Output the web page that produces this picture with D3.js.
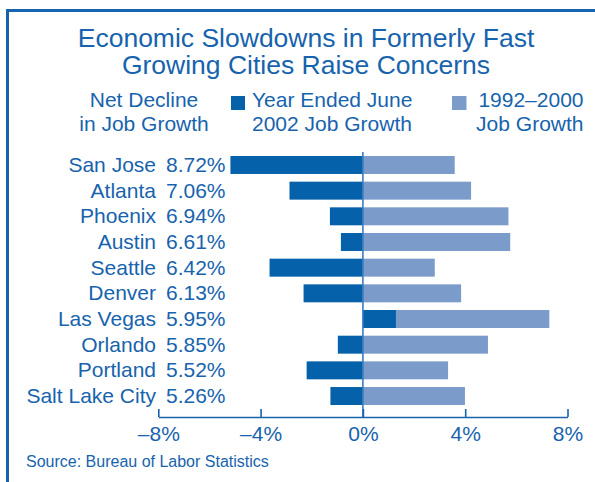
<!DOCTYPE html>
<html>
<head>
<meta charset="utf-8">
<script src="https://cdn.jsdelivr.net/npm/d3@7"></script>
<style>
  body { margin: 0; background: #fff; }
  svg text { font-family: "Liberation Sans", Arial, Helvetica, sans-serif; fill: #1763ad; }
</style>
</head>
<body>
<svg id="chart" width="595" height="482"></svg>
<script>
// values
const cities = ['San Jose', 'Atlanta', 'Phoenix', 'Austin', 'Seattle',
  'Denver', 'Las Vegas', 'Orlando', 'Portland', 'Salt Lake City'];
const netDecline = [8.72, 7.06, 6.94, 6.61, 6.42, 6.13, 5.95, 5.85, 5.52, 5.26];
const growth2002 = [-5.18, -2.87, -1.29, -0.86, -3.65, -2.32, 1.29, -0.98, -2.20, -1.27];
const growth9200 = [3.59, 4.23, 5.69, 5.76, 2.81, 3.84, 7.29, 4.89, 3.33, 3.99];
const xTicks = [-8, -4, 0, 4, 8];
const titleLines = ['Economic Slowdowns in Formerly Fast', 'Growing Cities Raise Concerns'];

const DARK = '#0561a9';
const LIGHT = '#7b9bcb';
const BLUE = '#1763ad';

const svg = d3.select('#chart');

// frame (only left and top edges show)
svg.append('path')
  .attr('d', 'M7.5,482V10.5H595')
  .attr('fill', 'none')
  .attr('stroke', BLUE)
  .attr('stroke-width', 3);

// title
svg.append('g').selectAll('text')
  .data(titleLines)
  .join('text')
  .attr('x', 306)
  .attr('y', (d, i) => 46.5 + i * 27.5)
  .attr('text-anchor', 'middle')
  .attr('font-size', 26.5)
  .text((d) => d);

// legend
const legend = svg.append('g').attr('font-size', 21);
legend.append('text').attr('x', 144).attr('y', 107).attr('text-anchor', 'middle').text('Net Decline');
legend.append('text').attr('x', 144).attr('y', 130.5).attr('text-anchor', 'middle').text('in Job Growth');
legend.append('rect').attr('x', 231).attr('y', 96).attr('width', 14).attr('height', 14).attr('fill', DARK);
legend.append('text').attr('x', 252).attr('y', 107).text('Year Ended June');
legend.append('text').attr('x', 252).attr('y', 130.5).text('2002 Job Growth');
legend.append('rect').attr('x', 452).attr('y', 96).attr('width', 14.5).attr('height', 14).attr('fill', LIGHT);
legend.append('text').attr('x', 583.5).attr('y', 107).attr('text-anchor', 'end').text('1992\u20132000');
legend.append('text').attr('x', 583.5).attr('y', 130.5).attr('text-anchor', 'end').text('Job Growth');

// scales
const x = d3.scaleLinear().domain([-8, 8]).range([158.3, 567.5]);
const y = d3.scaleBand().domain(cities).range([148.3, 412.7]).padding(0.3);

const rows = cities.map((c, i) => ({
  city: c, net: netDecline[i], g02: growth2002[i], g92: growth9200[i],
}));

// bars: long-run growth first, recent growth on top
svg.append('g').selectAll('rect')
  .data(rows)
  .join('rect')
  .attr('x', (d) => x(Math.min(0, d.g92)))
  .attr('y', (d) => y(d.city))
  .attr('width', (d) => Math.abs(x(d.g92) - x(0)))
  .attr('height', y.bandwidth())
  .attr('fill', LIGHT);

svg.append('g').selectAll('rect')
  .data(rows)
  .join('rect')
  .attr('x', (d) => x(Math.min(0, d.g02)))
  .attr('y', (d) => y(d.city))
  .attr('width', (d) => Math.abs(x(d.g02) - x(0)))
  .attr('height', y.bandwidth())
  .attr('fill', DARK);

// zero line
svg.append('line')
  .attr('x1', x(0)).attr('x2', x(0))
  .attr('y1', 152).attr('y2', 417)
  .attr('stroke', '#3a7cc1')
  .attr('stroke-width', 1.6);

// row labels
const labels = svg.append('g').attr('font-size', 21);
labels.selectAll('text.city')
  .data(rows)
  .join('text')
  .attr('class', 'city')
  .attr('x', 156)
  .attr('y', (d) => y(d.city) + y.bandwidth() / 2 + 7)
  .attr('text-anchor', 'end')
  .text((d) => d.city);
labels.selectAll('text.net')
  .data(rows)
  .join('text')
  .attr('class', 'net')
  .attr('x', 166)
  .attr('y', (d) => y(d.city) + y.bandwidth() / 2 + 7)
  .text((d) => d.net.toFixed(2) + '%');

// x axis, ticks pointing up
const axis = svg.append('g')
  .attr('transform', 'translate(0,417)')
  .call(d3.axisBottom(x)
    .tickValues(xTicks)
    .tickSizeInner(-8)
    .tickSizeOuter(0)
    .tickPadding(9)
    .tickFormat((d) => (d < 0 ? '\u2013' : '') + Math.abs(d) + '%'));
axis.select('.domain').attr('stroke', BLUE).attr('stroke-width', 1.6);
axis.selectAll('.tick line').attr('stroke', BLUE).attr('stroke-width', 1.6);
axis.selectAll('.tick text')
  .attr('fill', BLUE)
  .attr('font-size', 21)
  .attr('font-family', '"Liberation Sans", Arial, Helvetica, sans-serif');

// source note
svg.append('text')
  .attr('x', 26)
  .attr('y', 467)
  .attr('font-size', 16)
  .text('Source: Bureau of Labor Statistics');
</script>
</body>
</html>
